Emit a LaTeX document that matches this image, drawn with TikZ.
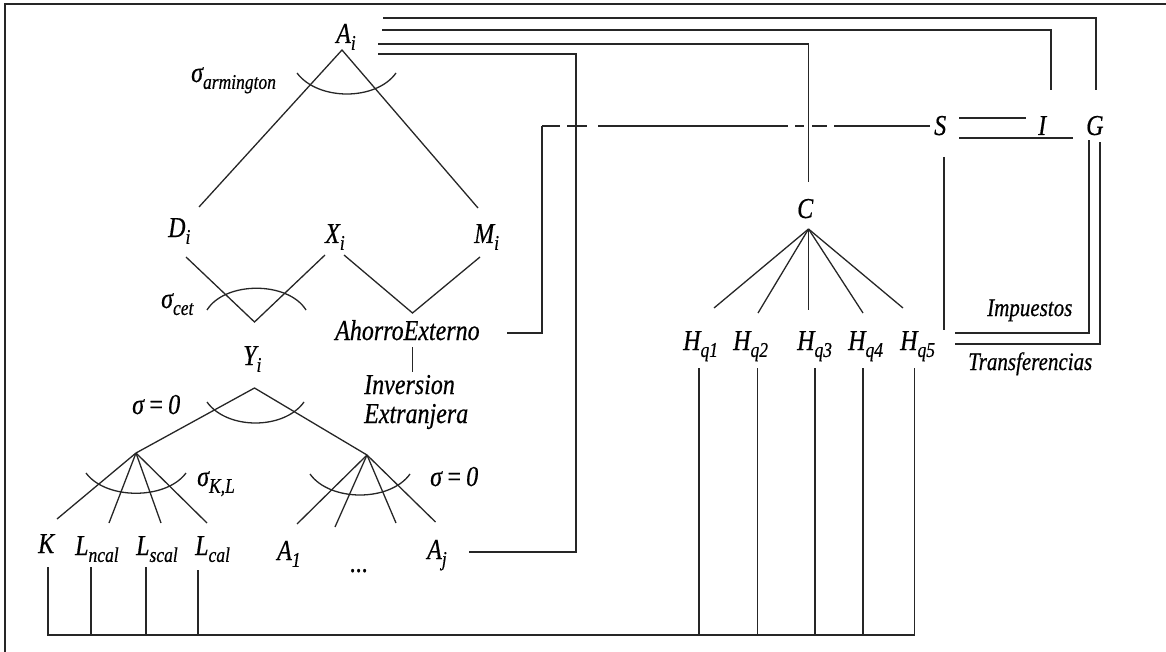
\documentclass[tikz,border=0pt]{standalone}
\usepackage{fontspec}
\setmainfont{Liberation Serif}[ItalicFeatures={FakeBold=0.6}]
\usepackage{graphicx}
\newcommand\vs[1]{\scalebox{1}[1.2]{#1}}
\newcommand\sbs[1]{\raisebox{-0.24em}{\fontsize{17.5}{17.5}\selectfont #1}}
\begin{document}
\begin{tikzpicture}[x=1pt,y=-1pt,
  ln/.style={line width=1.3pt, draw=black!85},
  lab/.style={font=\itshape\fontsize{24}{26}\selectfont, inner sep=0pt, anchor=base west},
  small/.style={font=\itshape\fontsize{21}{24}\selectfont, inner sep=0pt, anchor=base west}]
\useasboundingbox (0,0) rectangle (1166,652);
% frame
\draw[ln, line width=1.5pt] (5,652) -- (5,4) -- (1166,4);

% labels
\node[lab] (Ai) at (336,43) {\vs{A\sbs{i}}};
\node[lab] (sarm) at (191,82) {\vs{σ\sbs{armington}}};
\node[lab] (Di) at (168,237) {\vs{D\sbs{i}}};
\node[lab] (Xi) at (325,243) {\vs{X\sbs{i}}};
\node[lab] (Mi) at (474,243) {\vs{M\sbs{i}}};
\node[lab] (scet) at (161,308) {\vs{σ\sbs{cet}}};
\node[lab] (AE) at (335,340) {\vs{AhorroExterno}};
\node[lab] (Inv) at (364,394) {\vs{Inversion}};
\node[lab] (Ext) at (364,423) {\vs{Extranjera}};
\node[lab] (Yi) at (243,365) {\vs{Y\sbs{i}}};
\node[lab] (s0a) at (132,414) {\vs{σ\,=\,0}};
\node[lab] (sKL) at (197,486) {\vs{σ\sbs{K,L}}};
\node[lab] (s0b) at (430,486) {\vs{σ\,=\,0}};
\node[lab] (K) at (38,553) {\vs{K}};
\node[lab] (Lncal) at (75,555) {\vs{L\sbs{ncal}}};
\node[lab] (Lscal) at (136,555) {\vs{L\sbs{scal}}};
\node[lab] (Lcal) at (195,555) {\vs{L\sbs{cal}}};
\node[lab] (A1) at (277,560) {\vs{A\sbs{1}}};
\node[lab] (dots) at (350,572) {\vs{...}};
\node[lab] (Aj) at (427,559) {\vs{A\sbs{j}}};
\node[lab] (C) at (797,218) {\vs{C}};
\node[lab] (Hq1) at (683,350) {\vs{H\sbs{q1}}};
\node[lab] (Hq2) at (733,350) {\vs{H\sbs{q2}}};
\node[lab] (Hq3) at (797,350) {\vs{H\sbs{q3}}};
\node[lab] (Hq4) at (848,350) {\vs{H\sbs{q4}}};
\node[lab] (Hq5) at (900,350) {\vs{H\sbs{q5}}};
\node[lab] (S) at (934,135) {\vs{S}};
\node[lab] (I) at (1038,135) {\vs{I}};
\node[lab] (G) at (1086,135) {\vs{G}};
\node[small] (Imp) at (987,316) {\vs{Impuestos}};
\node[small] (Tra) at (968,370) {\vs{Transferencias}};

% Armington nest
\coordinate (aTop) at (342,50);
\coordinate (aL) at (199,207);
\coordinate (aR) at (478,208);
\draw[ln] (aL) -- (aTop) -- (aR);
\draw[ln] (297,73) .. controls (318,101) and (376,101) .. (396,73);

% CET nest
\coordinate (v1) at (254.5,322);
\coordinate (v1l) at (186,257);
\coordinate (v1r) at (325,255);
\draw[ln] (v1l) -- (v1) -- (v1r);
\draw[ln] (207,310) .. controls (225,281) and (288,281) .. (306,310);

% X - M  -> Ahorro externo
\coordinate (v2) at (412.5,313);
\coordinate (v2l) at (344,255);
\coordinate (v2r) at (480,257);
\draw[ln] (v2l) -- (v2) -- (v2r);
\coordinate (aeB) at (412.5,347);
\coordinate (invT) at (412.5,372);
\draw[ln] (aeB) -- (invT);

% Y nest
\coordinate (yTop) at (254.5,388);
\coordinate (fl) at (136,453);
\coordinate (fr) at (367,455);
\draw[ln] (fl) -- (yTop) -- (fr);
\draw[ln] (207,402) .. controls (227,430) and (284,430) .. (304,402);

% K,L fan
\foreach \p in {(57,519),(109,523),(161,523),(207,523)}
  \draw[ln] (fl) -- \p;
\draw[ln] (86,473) .. controls (106,500) and (166,500) .. (186,473);

% intermediate fan
\foreach \p in {(297,524),(335,527),(396,523),(435.5,522)}
  \draw[ln] (fr) -- \p;
\draw[ln] (310,474) .. controls (330,502) and (390,502) .. (410,474);

% connectors from A_i
\coordinate (aG) at (383,18);
\coordinate (aI) at (382,30);
\coordinate (aC) at (378,44);
\coordinate (aJ) at (378,54);
\coordinate (gT) at (1096,90);
\coordinate (iT) at (1051,90);
\coordinate (cT) at (808.5,182);
\coordinate (jR) at (469,552);
\draw[ln] (aG) -- (1096,18) -- (gT);
\draw[ln] (aI) -- (1051,30) -- (iT);
\draw[ln] (aC) -- (808.5,44) -- (cT);
\draw[ln] (aJ) -- (576,54) -- (576,552) -- (jR);

% Ahorro externo -> S
\coordinate (aeR) at (507,333);
\coordinate (corner) at (542,126);
\coordinate (sL) at (930,126);
\draw[ln] (aeR) -- (542,333) -- (corner);
\draw[ln, dash pattern=on 18pt off 7pt on 20pt off 11pt on 190pt off 7pt on 9pt off 8pt on 15pt off 7pt on 200pt] (corner) -- (sL);

% S - I - G
\coordinate (sR1) at (959,118);
\coordinate (iL) at (1026,118);
\coordinate (sR2) at (959,138);
\coordinate (gL) at (1073,138);
\draw[ln] (sR1) -- (iL);
\draw[ln] (sR2) -- (gL);
\coordinate (sB) at (944,157);
\coordinate (sE) at (944,330);
\draw[ln] (sB) -- (sE);

% H_q5 - G
\coordinate (h5a) at (955,333);
\coordinate (gB1) at (1089,140);
\coordinate (h5b) at (955,344);
\coordinate (gB2) at (1100,142);
\draw[ln] (h5a) -- (1089,333) -- (gB1);
\draw[ln] (h5b) -- (1100,344) -- (gB2);

% C fan
\coordinate (cA) at (808.5,229);
\foreach \p in {(714,308),(758,313),(808.5,310),(863,313),(903,308)}
  \draw[ln] (cA) -- \p;

% factor markets
\coordinate (bK) at (48,567);
\coordinate (bH5) at (914.5,368);
\draw[ln] (bK) -- (48,635) -- (914.5,635) -- (bH5);
\foreach \x/\y in {91/567,146/567,198/570,699/368,757.5/368,815/368,863/368}
  \draw[ln] (\x,\y) -- (\x,635);
\end{tikzpicture}
\end{document}
